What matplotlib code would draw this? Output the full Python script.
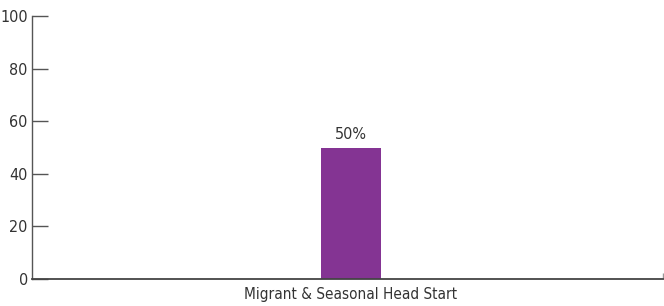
import matplotlib
matplotlib.use('Agg')
import matplotlib.pyplot as plt

plt.rcParams['font.family'] = ['DejaVu Sans']
plt.rcParams['font.stretch'] = 'condensed'

categories = ['Migrant & Seasonal Head Start']
values = [50]
labels = ['50%']
yticks = [0, 20, 40, 60, 80, 100]

fig = plt.figure(figsize=(6.64, 3.06), dpi=100)
ax = fig.add_axes([32 / 664, 1 - 279 / 306, 631 / 664, 263 / 306])

bars = ax.bar(range(len(categories)), values, width=0.095, color='#843493')
for b, lab in zip(bars, labels):
    ax.text(b.get_x() + b.get_width() / 2, b.get_height() + 2, lab,
            ha='center', va='bottom', fontsize=11.5, color='#333333')

ax.set_xlim(-0.505, 0.495)
ax.set_ylim(0, 100)
ax.set_yticks(yticks)
ax.set_xticks(range(len(categories)))
ax.set_xticklabels(categories)
ax.set_xticks([0.495], minor=True)

for s in ['top', 'right']:
    ax.spines[s].set_visible(False)
ax.spines['left'].set_color('#555555')
ax.spines['left'].set_linewidth(1.0)
ax.spines['bottom'].set_color('#444444')
ax.spines['bottom'].set_linewidth(1.3)

ax.tick_params(axis='y', direction='in', length=11.5, width=1.0, color='#555555',
               labelsize=11.5, labelcolor='#333333', pad=3)
ax.tick_params(axis='x', which='major', length=0, labelsize=11,
               labelcolor='#333333', pad=6)
ax.tick_params(axis='x', which='minor', direction='in', length=4, width=1,
               color='#999999')

fig.savefig('out.png', dpi=100)
